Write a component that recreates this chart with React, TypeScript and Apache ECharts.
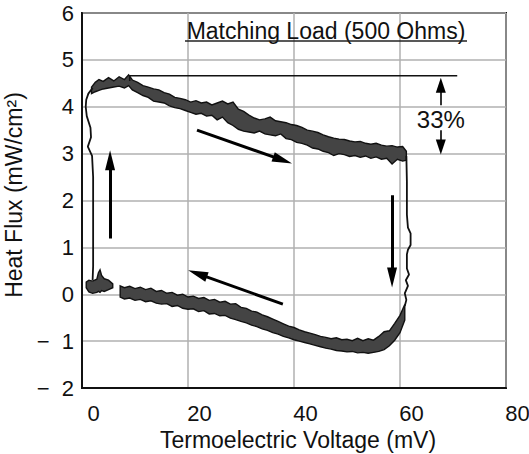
import React, { useEffect, useRef } from 'react';
import * as echarts from 'echarts';

// Axes
const X_MIN = 0;
const X_MAX = 80;
const X_STEP = 20;
const Y_MIN = -2;
const Y_MAX = 6;
const Y_STEP = 1;

const TITLE = 'Matching Load (500 Ohms)';
const X_NAME = 'Termoelectric Voltage (mV)';
const Y_NAME = 'Heat Flux (mW/cm\u00B2)';
const PCT_LABEL = '33%';
const PCT_POS = [67.7, 3.73];

// Upper (heating) band: voltage, upper edge, lower edge of the noisy trace
const upperX = [1.8, 2.5, 3.2, 4.0, 5.0, 6.0, 7.0, 8.0, 8.8, 9.5, 10.5, 11.5, 12.5, 13.5, 14.5, 15.5, 16.5, 17.5, 18.5, 19.5, 20.5, 21.5, 22.5, 23.5, 24.5, 25.5, 26.5, 27.5, 28.5, 29.5, 30.5, 31.5, 32.5, 33.5, 34.5, 35.5, 36.5, 37.5, 38.5, 39.5, 40.5, 41.5, 42.5, 43.5, 44.5, 45.5, 46.5, 47.5, 48.5, 49.5, 50.5, 51.5, 52.5, 53.5, 54.5, 55.5, 56.5, 57.5, 58.5, 59.5, 60.5, 61.2];
const upperTop = [4.42, 4.52, 4.58, 4.54, 4.62, 4.55, 4.64, 4.58, 4.68, 4.57, 4.52, 4.45, 4.42, 4.38, 4.36, 4.30, 4.27, 4.20, 4.18, 4.15, 4.10, 4.13, 4.08, 4.10, 4.04, 4.08, 4.12, 4.06, 4.10, 3.95, 3.90, 3.82, 3.76, 3.72, 3.74, 3.78, 3.70, 3.68, 3.66, 3.62, 3.60, 3.56, 3.50, 3.48, 3.45, 3.40, 3.36, 3.33, 3.31, 3.30, 3.27, 3.25, 3.26, 3.22, 3.20, 3.22, 3.18, 3.16, 3.17, 3.14, 3.15, 3.05];
const upperBot = [4.28, 4.32, 4.35, 4.38, 4.40, 4.42, 4.44, 4.40, 4.45, 4.36, 4.30, 4.24, 4.20, 4.12, 4.10, 4.08, 4.02, 3.98, 3.96, 3.92, 3.88, 3.84, 3.86, 3.80, 3.82, 3.72, 3.78, 3.66, 3.60, 3.52, 3.48, 3.46, 3.44, 3.48, 3.42, 3.40, 3.38, 3.42, 3.32, 3.30, 3.24, 3.22, 3.18, 3.12, 3.10, 3.05, 3.02, 2.96, 3.00, 2.98, 2.94, 2.96, 2.92, 2.95, 2.90, 2.93, 2.88, 2.90, 2.78, 2.88, 2.84, 2.86];

// Lower (cooling) band
const lowerX = [7.2, 8, 9, 10, 11, 12, 13, 14, 15, 16, 17, 18, 19, 20, 21, 22, 23, 24, 25, 26, 27, 28, 29, 30, 31, 32, 33, 34, 35, 36, 37, 38, 39, 40, 41, 42, 43, 44, 45, 46, 47, 48, 49, 50, 51, 52, 53, 54, 55, 56, 57, 58, 59, 60, 60.9];
const lowerTop = [0.18, 0.14, 0.17, 0.12, 0.15, 0.10, 0.13, 0.06, 0.08, 0.02, 0.04, -0.02, 0.00, -0.06, -0.04, -0.09, -0.07, -0.13, -0.11, -0.17, -0.15, -0.21, -0.20, -0.28, -0.30, -0.36, -0.38, -0.44, -0.48, -0.53, -0.58, -0.63, -0.68, -0.71, -0.76, -0.80, -0.83, -0.86, -0.90, -0.92, -0.95, -0.93, -0.97, -0.96, -0.99, -0.94, -0.99, -0.95, -0.98, -0.90, -0.80, -0.78, -0.62, -0.45, -0.22];
const lowerBot = [-0.06, -0.10, -0.08, -0.13, -0.11, -0.16, -0.14, -0.19, -0.21, -0.20, -0.26, -0.24, -0.30, -0.32, -0.31, -0.37, -0.35, -0.42, -0.41, -0.46, -0.45, -0.51, -0.54, -0.58, -0.61, -0.66, -0.69, -0.74, -0.77, -0.82, -0.85, -0.90, -0.93, -0.97, -1.00, -1.03, -1.06, -1.09, -1.12, -1.15, -1.17, -1.20, -1.21, -1.23, -1.22, -1.25, -1.24, -1.26, -1.24, -1.22, -1.18, -1.10, -0.98, -0.82, -0.55];

// Small blob at the lower-left corner
const blobX = [0.8, 1.3, 2.0, 2.8, 3.1, 3.4, 3.7, 4.2, 5.0, 5.8];
const blobTop = [0.26, 0.30, 0.28, 0.32, 0.46, 0.52, 0.40, 0.33, 0.30, 0.22];
const blobBot = [0.14, 0.05, 0.02, 0.04, 0.06, 0.04, 0.08, 0.06, 0.10, 0.14];

// Thin vertical transitions
const leftTraceX = [2.0, 1.2, 0.8, 0.7, 0.9, 1.6, 1.7, 1.1, 1.9, 2.1, 2.1, 2.1, 2.0];
const leftTraceY = [4.40, 4.28, 4.15, 4.00, 3.80, 3.55, 3.35, 3.15, 2.95, 2.50, 1.50, 0.60, 0.30];
const rightTraceX = [61.2, 61.3, 61.3, 61.5, 62.0, 62.0, 61.5, 61.3, 61.3, 61.7, 61.1, 61.5, 60.9, 61.2, 60.9];
const rightTraceY = [2.95, 2.40, 1.70, 1.42, 1.30, 1.05, 0.95, 0.85, 0.55, 0.42, 0.30, 0.18, 0.02, -0.12, -0.25];

// Reference line at the peak
const refX = [9.0, 9.0, 70.8];
const refY = [4.55, 4.66, 4.66];

// Arrows: [fromX, fromY, toX, toY]
const bigArrows = [
  [21.7, 3.50, 37.85, 2.86],
  [37.9, -0.21, 21.8, 0.44],
  [5.3, 1.19, 5.3, 2.86],
  [58.5, 2.11, 58.5, 0.36],
];
const smallArrows = [
  [67.7, 4.03, 67.7, 4.46],
  [67.7, 3.50, 67.7, 3.14],
];

const FONT = '"Liberation Sans", Arial, Helvetica, sans-serif';

export default function App() {
  const ref = useRef<HTMLDivElement>(null);

  useEffect(() => {
    if (!ref.current) return;
    const chart = echarts.init(ref.current, null, { renderer: 'svg' });

    const band = (xs: number[], tops: number[], bots: number[]) => ({
      type: 'custom',
      silent: true,
      z: 3,
      encode: { x: 0, y: [1, 2] },
      data: xs.map((x, i) => [x, tops[i], bots[i]]),
      renderItem: (params: any, api: any) => {
        if (params.dataIndex !== 0) return null;
        const pts: number[][] = [];
        for (let i = 0; i < xs.length; i++) pts.push(api.coord([xs[i], tops[i]]));
        for (let i = xs.length - 1; i >= 0; i--) pts.push(api.coord([xs[i], bots[i]]));
        return {
          type: 'polygon',
          shape: { points: pts },
          style: { fill: '#444444', stroke: '#111', lineWidth: 1.4 },
        };
      },
    });

    const thin = (xs: number[], ys: number[], width: number) => ({
      type: 'line',
      silent: true,
      z: 4,
      symbol: 'none',
      showSymbol: false,
      data: xs.map((x, i) => [x, ys[i]]),
      lineStyle: { color: '#111', width },
    });

    const arrows = (list: number[][], width: number, head: number[]) => ({
      type: 'lines',
      coordinateSystem: 'cartesian2d',
      silent: true,
      z: 5,
      symbol: ['none', 'triangle'],
      symbolSize: [0, head],
      lineStyle: { color: '#000', width, opacity: 1, curveness: 0 },
      data: list.map((a) => ({ coords: [[a[0], a[1]], [a[2], a[3]]] })),
    });

    chart.setOption({
      animation: false,
      backgroundColor: '#fff',
      textStyle: { fontFamily: FONT },
      grid: {
        left: 82,
        right: 23,
        top: 13,
        bottom: 66,
        show: true,
        borderColor: '#111',
        borderWidth: 2,
        containLabel: false,
        outerBoundsMode: 'none',
      },
      xAxis: {
        type: 'value',
        min: X_MIN,
        max: X_MAX,
        interval: X_STEP,
        name: X_NAME,
        nameLocation: 'middle',
        nameGap: 36,
        nameTextStyle: { fontSize: 23, color: '#111', fontFamily: FONT, padding: [0, 0, 0, 8] },
        axisLine: { show: true, onZero: false, lineStyle: { color: '#111', width: 2 } },
        axisTick: { show: false },
        axisLabel: { fontSize: 22, color: '#111', margin: 14, padding: [0, 0, 0, 23], fontFamily: FONT },
        splitLine: { show: true, lineStyle: { color: '#b0b0b0', width: 1.5 } },
      },
      yAxis: {
        type: 'value',
        min: Y_MIN,
        max: Y_MAX,
        interval: Y_STEP,
        name: Y_NAME,
        nameLocation: 'middle',
        nameGap: 46,
        nameTextStyle: { fontSize: 23, color: '#111', fontFamily: FONT, padding: [0, 0, 0, 11] },
        axisLine: { show: true, onZero: false, lineStyle: { color: '#111', width: 2 } },
        axisTick: { show: false },
        axisLabel: {
          fontSize: 22,
          color: '#111',
          margin: 8,
          padding: [12, 0, 0, 0],
          fontFamily: FONT,
          formatter: (v: number) => (v < 0 ? '\u2212  ' + Math.abs(v) : String(v)),
        },
        splitLine: { show: true, lineStyle: { color: '#b0b0b0', width: 1.5 } },
      },
      graphic: [
        {
          type: 'text',
          x: 326,
          y: 31,
          z: 10,
          style: {
            text: TITLE,
            fill: '#111',
            font: '23px "Liberation Sans", Arial, sans-serif',
            align: 'center',
            verticalAlign: 'middle',
            textAlign: 'center',
            textVerticalAlign: 'middle',
          },
        },
        {
          type: 'line',
          z: 10,
          shape: { x1: 185, y1: 41, x2: 467, y2: 41 },
          style: { stroke: '#222', lineWidth: 1.5 },
        },
      ],
      series: [
        band(upperX, upperTop, upperBot),
        band(lowerX, lowerTop, lowerBot),
        band(blobX, blobTop, blobBot),
        thin(leftTraceX, leftTraceY, 1.8),
        thin(rightTraceX, rightTraceY, 1.8),
        thin(refX, refY, 1.5),
        arrows(bigArrows, 3, [10, 20]),
        arrows(smallArrows, 1.6, [10, 15]),
        {
          type: 'scatter',
          silent: true,
          z: 6,
          symbolSize: 0,
          itemStyle: { color: '#111', opacity: 1 },
          data: [PCT_POS],
          label: {
            show: true,
            position: 'inside',
            formatter: PCT_LABEL,
            fontSize: 24,
            color: '#111',
            opacity: 1,
            fontFamily: FONT,
          },
          emphasis: { disabled: true },
        },
      ],
    });

    return () => chart.dispose();
  }, []);

  return <div ref={ref} style={{ position: 'fixed', left: 0, top: 0, width: 529, height: 454 }} />;
}
